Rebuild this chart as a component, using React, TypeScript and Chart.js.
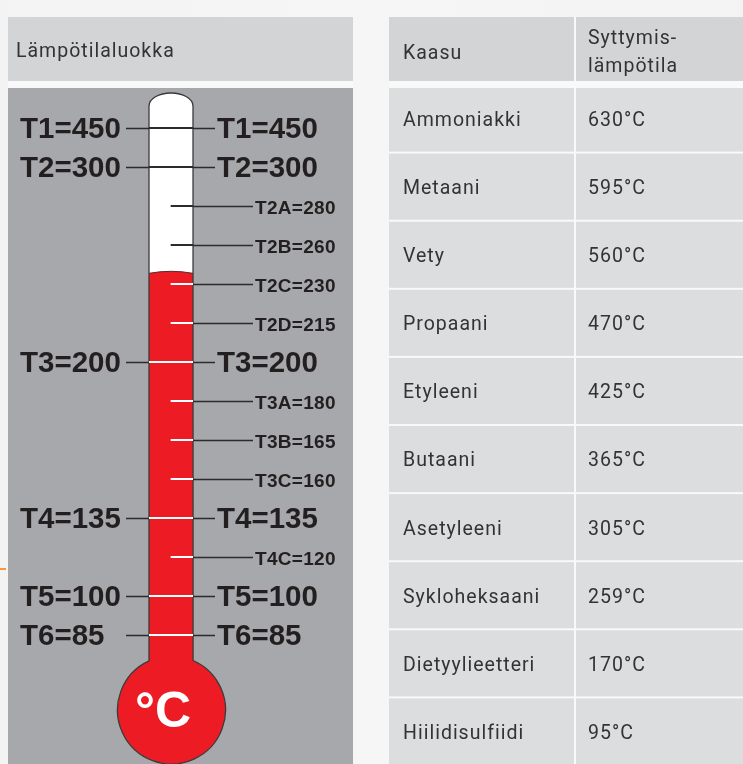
import React, { useEffect, useRef } from "react";
import { Chart, registerables } from "chart.js";

Chart.register(...registerables);

// ---------- data ----------
const classNames = ["T1", "T2", "T2A", "T2B", "T2C", "T2D", "T3", "T3A", "T3B", "T3C", "T4", "T4C", "T5", "T6"];
const classTemps = [450, 300, 280, 260, 230, 215, 200, 180, 165, 160, 135, 120, 100, 85];
const classMajor = [true, true, false, false, false, false, true, false, false, false, true, false, true, true];
const mercuryLevel = 3.7; // category position of the top of the red column
const unitLabel = "°C";
const leftHeader = "Lämpötilaluokka";

const gasNames = ["Ammoniakki", "Metaani", "Vety", "Propaani", "Etyleeni", "Butaani", "Asetyleeni", "Sykloheksaani", "Dietyylieetteri", "Hiilidisulfiidi"];
const gasIgnition = [630, 595, 560, 470, 425, 365, 305, 259, 170, 95];
const tableHeaders = ["Kaasu", "Syttymis-\nlämpötila"];

// ---------- styles ----------
const RED = "#ed1c24";
const PANEL = "#a7a8ab";
const HEAD = "#d3d4d6";
const CELL = "#dcdddf";
const GAP = "#f9f9f9";
const INK = "#231f20";
const TXT = "#333333";
const BOLD = '"Liberation Sans", Arial, sans-serif';
const REG = 'Roboto, "Liberation Sans", sans-serif';

const thermoPlugin = {
  id: "thermo",
  beforeDatasetsDraw(chart: any) {
    const ctx = chart.ctx as CanvasRenderingContext2D;
    const { left, right } = chart.chartArea;
    const y = chart.scales.y;
    const W = chart.width, H = chart.height;
    ctx.save();
    ctx.fillStyle = GAP;
    ctx.fillRect(0, 0, W, H);
    ctx.fillStyle = HEAD;
    ctx.fillRect(0, 0, W, 64);
    ctx.fillStyle = PANEL;
    ctx.fillRect(0, 71, W, H - 71);
    // header text
    ctx.fillStyle = TXT;
    ctx.font = `19.5px ${REG}`;
    (ctx as any).letterSpacing = "1px";
    ctx.textBaseline = "middle";
    ctx.textAlign = "left";
    ctx.fillText(leftHeader, 8, 35);
    (ctx as any).letterSpacing = "0px";

    // tube + bulb path
    const cx = (left + right) / 2;
    const rx = (right - left) / 2;
    const capTop = y.getPixelForValue(0) - 35;
    const wallTop = capTop + 13;
    const bcy = y.getPixelForValue(classNames.length - 1) + 75;
    const bcx = cx + 0.5;
    const R = 54;
    const h = Math.sqrt(R * R - rx * rx);
    const neck = bcy - h;
    const path = new Path2D();
    path.moveTo(left, wallTop);
    path.lineTo(left, neck);
    path.arc(bcx, bcy, R, Math.atan2(-h, left - bcx), Math.atan2(-h, right - bcx), true);
    path.lineTo(right, wallTop);
    path.ellipse(cx, wallTop, rx, 13, 0, 0, Math.PI, true);
    path.closePath();
    ctx.fillStyle = "#ffffff";
    ctx.fill(path);
    // red column
    ctx.save();
    ctx.clip(path);
    const mY = y.getPixelForValue(mercuryLevel);
    ctx.beginPath();
    ctx.moveTo(0, mY + 1);
    ctx.lineTo(left, mY + 1);
    ctx.quadraticCurveTo(cx, mY - 3, right, mY + 1);
    ctx.lineTo(W, mY + 1);
    ctx.lineTo(W, H + 10);
    ctx.lineTo(0, H + 10);
    ctx.closePath();
    ctx.fillStyle = RED;
    ctx.fill();
    ctx.beginPath();
    ctx.moveTo(left, mY + 1);
    ctx.quadraticCurveTo(cx, mY - 3, right, mY + 1);
    ctx.strokeStyle = "#5a2a2a";
    ctx.lineWidth = 1;
    ctx.stroke();
    ctx.restore();
    ctx.strokeStyle = "#3a3a3a";
    ctx.lineWidth = 1.3;
    ctx.stroke(path);
    ctx.restore();
  },
  afterDatasetsDraw(chart: any) {
    const ctx = chart.ctx as CanvasRenderingContext2D;
    const { left, right } = chart.chartArea;
    const y = chart.scales.y;
    ctx.save();
    ctx.strokeStyle = "#2b2b2b";
    ctx.lineWidth = 1.3;
    ctx.fillStyle = INK;
    ctx.textBaseline = "middle";
    classNames.forEach((name, i) => {
      const py = Math.round(y.getPixelForValue(i)) + 0.5;
      const label = `${name}=${classTemps[i]}`;
      ctx.beginPath();
      if (classMajor[i]) {
        ctx.moveTo(left - 23, py);
        ctx.lineTo(left, py);
        ctx.moveTo(right, py);
        ctx.lineTo(right + 22, py);
        ctx.stroke();
        ctx.font = `bold 29.5px ${BOLD}`;
        (ctx as any).letterSpacing = "0px";
        ctx.textAlign = "left";
        ctx.fillText(label, 12, py + 1);
        ctx.fillText(label, right + 24, py + 1);
      } else {
        ctx.moveTo(right, py);
        ctx.lineTo(right + 60, py);
        ctx.stroke();
        ctx.font = `bold 19px ${BOLD}`;
        (ctx as any).letterSpacing = "0.3px";
        ctx.textAlign = "left";
        ctx.fillText(label, right + 62, py + 2);
      }
    });
    (ctx as any).letterSpacing = "0px";
    // unit in bulb
    const cx = (left + right) / 2;
    const bcy = y.getPixelForValue(classNames.length - 1) + 75;
    ctx.fillStyle = "#ffffff";
    ctx.font = `bold 50px ${BOLD}`;
    ctx.textAlign = "center";
    ctx.fillText(unitLabel, cx - 8, bcy + 3);
    ctx.restore();
  },
};

const tablePlugin = {
  id: "gasTable",
  beforeDatasetsDraw(chart: any) {
    const ctx = chart.ctx as CanvasRenderingContext2D;
    const y = chart.scales.y;
    const W = chart.width, H = chart.height;
    const c1 = 185, c2 = 187;
    ctx.save();
    ctx.fillStyle = GAP;
    ctx.fillRect(0, 0, W, H);
    ctx.fillStyle = HEAD;
    ctx.fillRect(0, 0, c1, 64);
    ctx.fillRect(c2, 0, W - c2, 64);
    const half = (y.getPixelForValue(1) - y.getPixelForValue(0)) / 2;
    ctx.fillStyle = CELL;
    gasNames.forEach((_, i) => {
      const c = y.getPixelForValue(i);
      const top = Math.max(c - half + 1, 71);
      const bot = c + half - 1;
      ctx.fillRect(0, top, c1, bot - top);
      ctx.fillRect(c2, top, W - c2, bot - top);
    });
    ctx.fillStyle = TXT;
    ctx.font = `19.5px ${REG}`;
    (ctx as any).letterSpacing = "1px";
    ctx.textBaseline = "middle";
    ctx.textAlign = "left";
    ctx.fillText(tableHeaders[0], 14, 37);
    const hl = tableHeaders[1].split("\n");
    ctx.fillText(hl[0], 199, 22);
    ctx.fillText(hl[1], 199, 50);
    const data = chart.data.datasets[0].data as number[];
    gasNames.forEach((name, i) => {
      const c = y.getPixelForValue(i) + 2.5;
      ctx.fillText(name, 14, c);
      ctx.fillText(`${data[i]}${unitLabel}`, 199, c);
    });
    (ctx as any).letterSpacing = "0px";
    ctx.restore();
  },
};

export default function App() {
  const leftRef = useRef<HTMLCanvasElement>(null);
  const rightRef = useRef<HTMLCanvasElement>(null);

  useEffect(() => {
    const charts: Chart[] = [];
    const left = new Chart(leftRef.current as HTMLCanvasElement, {
      type: "bar",
      data: {
        labels: classNames,
        datasets: [
          {
            label: "tick",
            data: classMajor.map((m) => (m ? [-1, 1] : [0, 1])) as any,
            backgroundColor: classNames.map((_, i) => (i > mercuryLevel ? "#ffffff" : "#2b2b2b")),
            borderWidth: 0,
            barThickness: 1.4,
          },
        ],
      },
      options: {
        indexAxis: "y",
        responsive: false,
        animation: false,
        events: [],
        layout: { padding: { left: 141, right: 160, top: 91.5, bottom: 109.5 } },
        scales: {
          x: { type: "linear", min: -1, max: 1, display: false },
          y: { type: "category", offset: true, display: false },
        },
        plugins: { legend: { display: false }, tooltip: { enabled: false } },
      },
      plugins: [thermoPlugin],
    });
    charts.push(left);
    const right = new Chart(rightRef.current as HTMLCanvasElement, {
      type: "bar",
      data: {
        labels: gasNames,
        datasets: [
          {
            label: "Syttymislämpötila",
            data: gasIgnition,
            backgroundColor: "rgba(0,0,0,0)",
            borderWidth: 0,
          },
        ],
      },
      options: {
        indexAxis: "y",
        responsive: false,
        animation: false,
        events: [],
        layout: { padding: { left: 0, right: 0, top: 67.5, bottom: 1.5 } },
        scales: {
          x: { type: "linear", min: 0, max: 700, display: false },
          y: { type: "category", offset: true, display: false },
        },
        plugins: { legend: { display: false }, tooltip: { enabled: false } },
      },
      plugins: [tablePlugin],
    });
    charts.push(right);
    let alive = true;
    Promise.all([
      document.fonts.load(`bold 29px "Liberation Sans"`),
      document.fonts.load(`19.5px Roboto`),
    ])
      .catch(() => null)
      .then(() => {
        if (alive) charts.forEach((c) => c.update());
      });
    return () => {
      alive = false;
      charts.forEach((c) => c.destroy());
    };
  }, []);

  return (
    <div
      style={{
        position: "fixed",
        left: 0,
        top: 0,
        width: 743,
        height: 764,
        overflow: "hidden",
        background: "linear-gradient(90deg, #f3f3f3 0%, #f6f6f6 50%, #f3f3f3 100%)",
      }}
    >
      <canvas ref={leftRef} width={345} height={747} style={{ position: "absolute", left: 8, top: 17, width: 345, height: 747 }} />
      <canvas ref={rightRef} width={354} height={750} style={{ position: "absolute", left: 389, top: 17, width: 354, height: 750 }} />
      <div style={{ position: "absolute", left: 0, top: 568, width: 6, height: 2, background: "#f39a3c" }} />
    </div>
  );
}
